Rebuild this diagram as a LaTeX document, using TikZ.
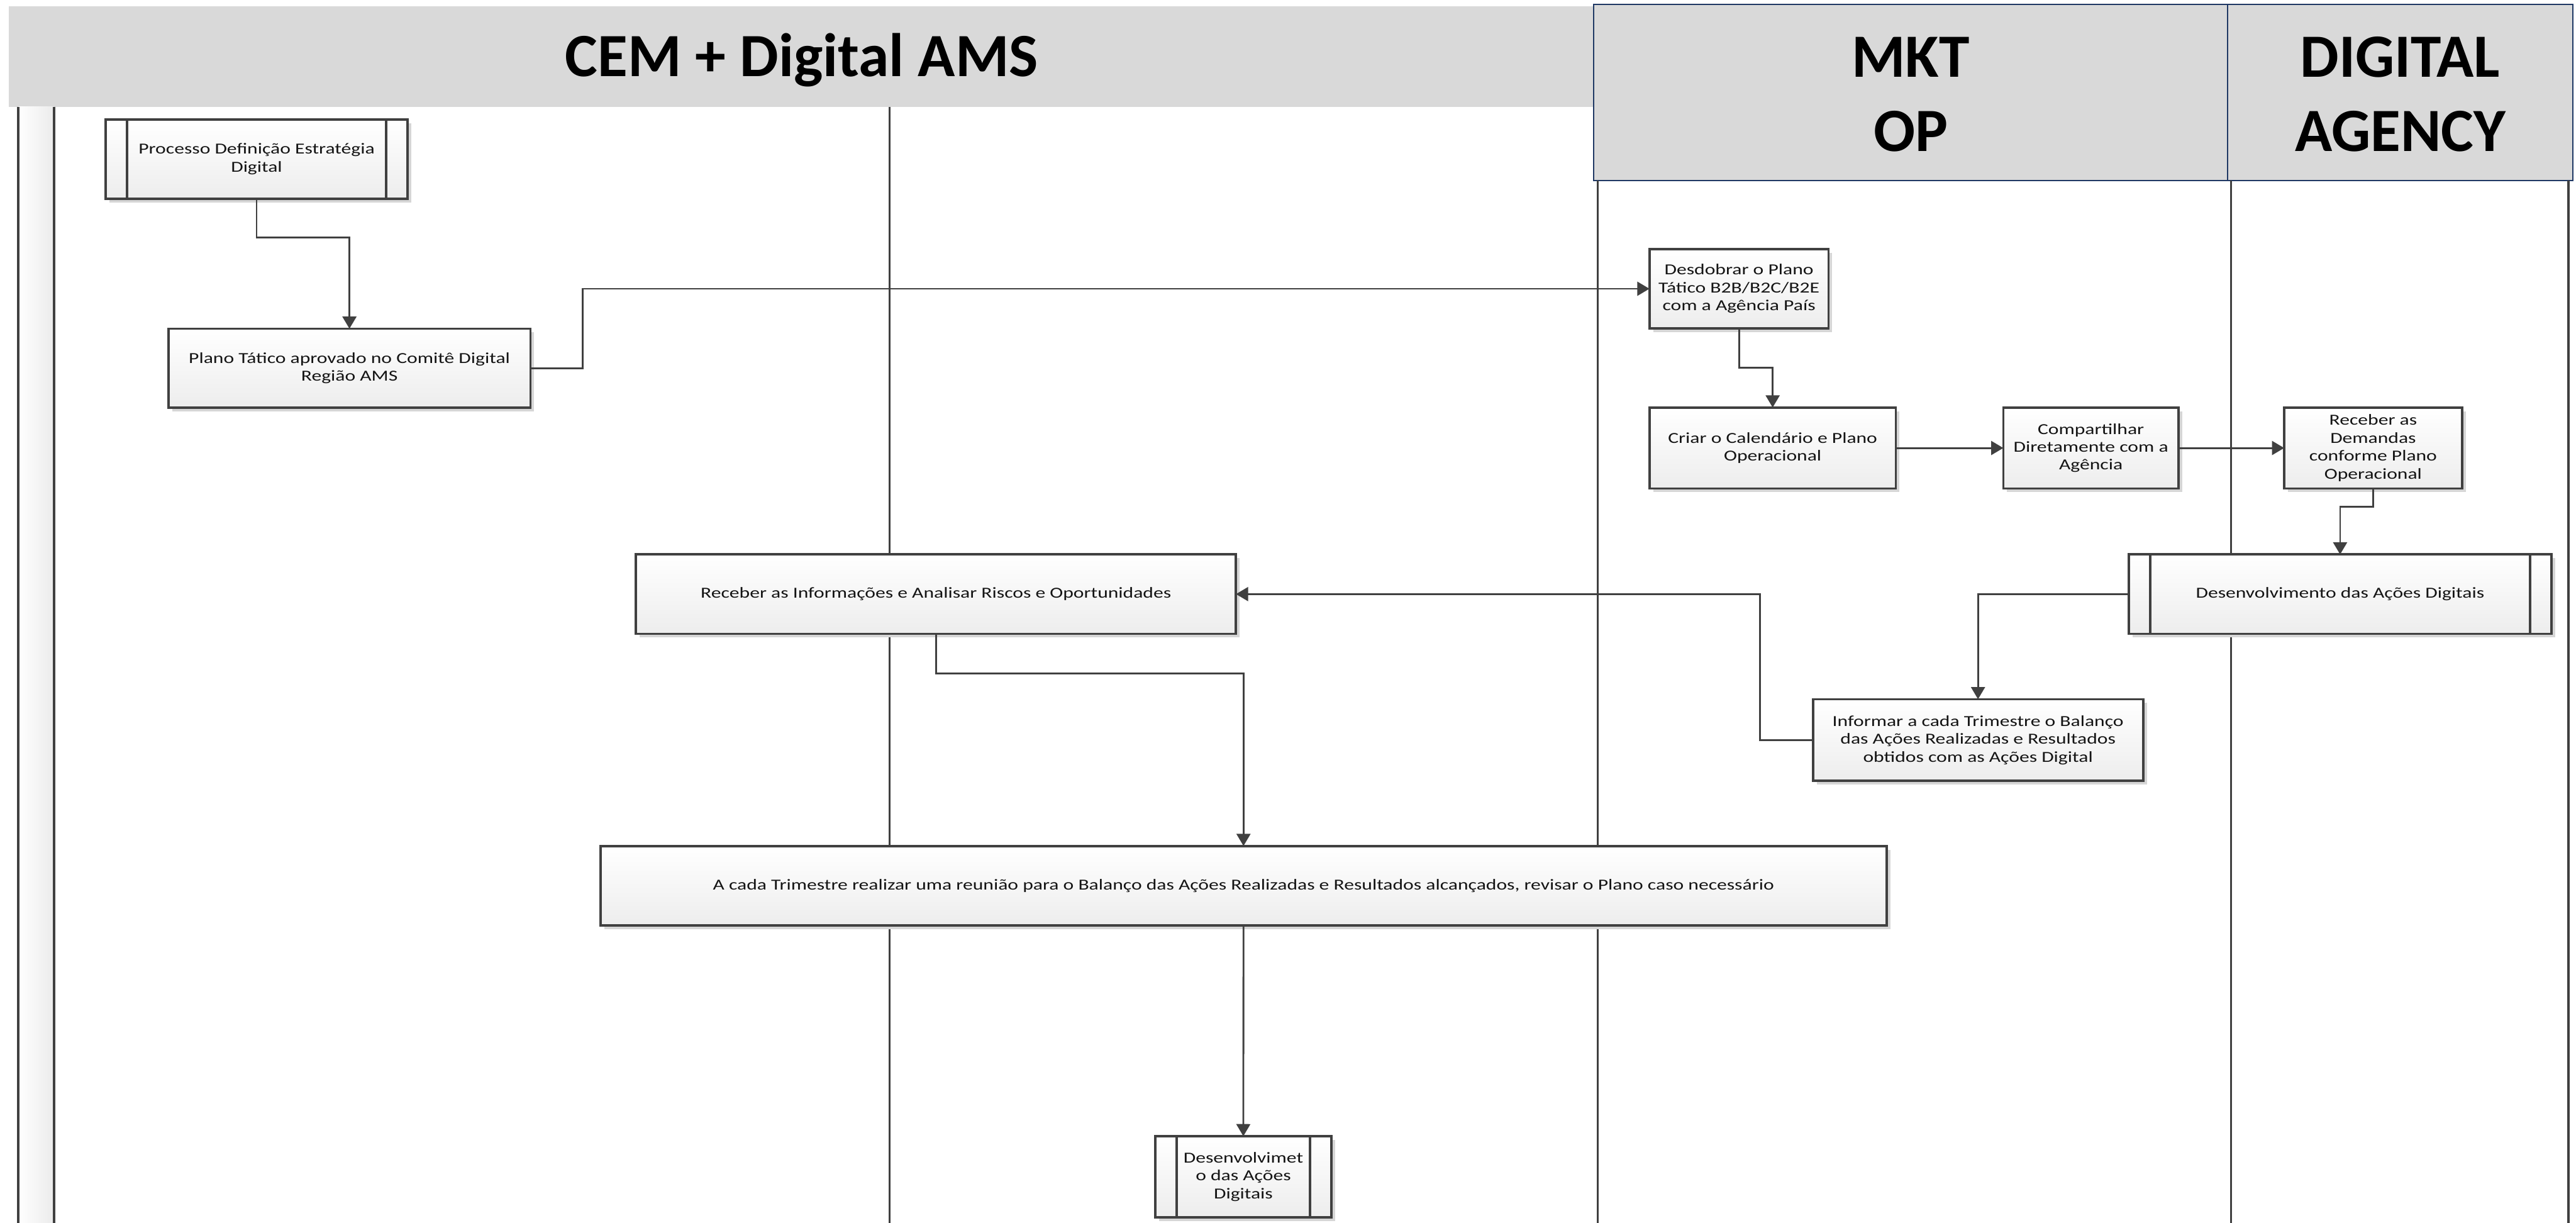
\documentclass[tikz,border=0pt]{standalone}
\usepackage{fontspec}
\usetikzlibrary{arrows.meta,shadows,calc}
\newfontfamily\boxfont[FakeStretch=1.3]{Carlito}
\newfontfamily\headfont{Carlito}
\definecolor{hdrgray}{HTML}{D9D9D9}
\definecolor{hdrline}{HTML}{1F3864}
\definecolor{linec}{HTML}{404040}
\definecolor{boxbot}{HTML}{EDEDED}
\definecolor{shadowc}{HTML}{D6D6D6}
\definecolor{stripc}{HTML}{EBEBEB}
\tikzset{
  proc/.style={draw=linec, line width=0.8pt, top color=white, bottom color=boxbot,
     inner sep=1pt, outer sep=0pt, align=center, text=black!92,
     font=\boxfont\fontsize{5.3}{6.2}\selectfont,
     drop shadow={shadow xshift=0.045cm, shadow yshift=-0.045cm, fill=shadowc, opacity=1}},
  conn/.style={draw=linec, line width=0.62pt, -{Triangle[length=4.2pt,width=4.8pt]}},
  lane/.style={draw=linec, line width=0.8pt},
  subline/.style={draw=linec, line width=0.8pt},
  hdrbox/.style={fill=hdrgray, draw=hdrline, line width=0.45pt},
  hdrtext/.style={font=\headfont\bfseries\fontsize{21.3}{25.5}\selectfont, anchor=base, inner sep=0pt, text=black},
}
\begin{document}
\begin{tikzpicture}[x=0.02cm,y=-0.02cm]
\useasboundingbox (0,0) rectangle (1568,744);
\fill[white] (0,0) rectangle (1568,744);

% headers
\fill[hdrgray] (5.5,3.7) rectangle (970,65);
\filldraw[hdrbox] (970,2.7) rectangle (1356,110);
\filldraw[hdrbox] (1356,2.7) rectangle (1566,110);
\node[hdrtext] (hcem) at (488,46.7) {CEM + Digital AMS};
\node[hdrtext] (hmkt1) at (1163,46.8) {MKT};
\node[hdrtext] (hmkt2) at (1163,92.2) {OP};
\node[hdrtext] (hdig1) at (1461,46.8) {DIGITAL};
\node[hdrtext] (hdig2) at (1461,92.2) {AGENCY};

% left strip and lanes
\shade[left color=white, right color=stripc] (11.2,65) rectangle (32.9,744);
\draw[lane] (11.2,65) -- (11.2,744);
\draw[lane] (32.9,65) -- (32.9,744);
\draw[lane] (541.5,65) -- (541.5,744);
\draw[lane] (972.5,110) -- (972.5,744);
\draw[lane] (1358,110) -- (1358,744);
\draw[lane] (1563.5,110) -- (1563.5,744);

% boxes
\node[proc, minimum width=3.672cm, minimum height=0.968cm] (n1) at (156.2,96.8) {Processo Definição Estratégia\\Digital};
\node[proc, minimum width=4.41cm, minimum height=0.96cm] (n2) at (212.7,224) {Plano Tático aprovado no Comitê Digital\\Região AMS};
\node[proc, minimum width=2.18cm, minimum height=0.966cm] (n3) at (1058.5,175.7) {Desdobrar o Plano\\Tático B2B/B2C/B2E\\com a Agência País};
\node[proc, minimum width=3.0cm, minimum height=0.986cm] (n4) at (1079,272.6) {Criar o Calendário e Plano\\Operacional};
\node[proc, minimum width=2.132cm, minimum height=0.986cm] (n5) at (1272.7,272.6) {Compartilhar\\Diretamente com a\\Agência};
\node[proc, minimum width=2.166cm, minimum height=0.986cm] (n6) at (1444.5,272.6) {Receber as\\Demandas\\conforme Plano\\Operacional};
\node[proc, minimum width=5.144cm, minimum height=0.966cm] (n7) at (1424.4,361.5) {Desenvolvimento das Ações Digitais};
\node[proc, minimum width=7.306cm, minimum height=0.966cm] (n8) at (569.7,361.5) {Receber as Informações e Analisar Riscos e Oportunidades};
\node[proc, minimum width=4.02cm, minimum height=0.994cm] (n9) at (1204,450.3) {Informar a cada Trimestre o Balanço\\das Ações Realizadas e Resultados\\obtidos com as Ações Digital};
\node[proc, minimum width=15.66cm, minimum height=0.966cm] (n10) at (756.9,538.9) {A cada Trimestre realizar uma reunião para o Balanço das Ações Realizadas e Resultados alcançados, revisar o Plano caso necessário};
\node[proc, minimum width=2.144cm, minimum height=0.986cm] (n11) at (756.8,716) {Desenvolvimet\\o das Ações\\Digitais};

% subprocess side bars
\foreach \n in {n1,n7,n11}{
  \draw[subline] ([xshift=0.26cm]\n.north west) -- ([xshift=0.26cm]\n.south west);
  \draw[subline] ([xshift=-0.26cm]\n.north east) -- ([xshift=-0.26cm]\n.south east);
}

% connectors
\draw[conn] (n1.south) -- ++(0,23.5) -| (n2.north);
\draw[conn] (n2.east) -- ++(31.7,0) |- (n3.west);
\draw[conn] (n3.south) -- ++(0,23.9) -| (n4.north);
\draw[conn] (n4.east) -- (n5.west);
\draw[conn] (n5.east) -- (n6.west);
\draw[conn] (n6.south) -- ++(0,11.2) -| (n7.north);
\draw[conn] (n7.west) -| (n9.north);
\draw[conn] (n9.west) -- ++(-32.2,0) |- (n8.east);
\draw[conn] (n8.south) -- ++(0,24) -| (n10.north);
\draw[conn] (n10.south) -- (n11.north);
\end{tikzpicture}
\end{document}
